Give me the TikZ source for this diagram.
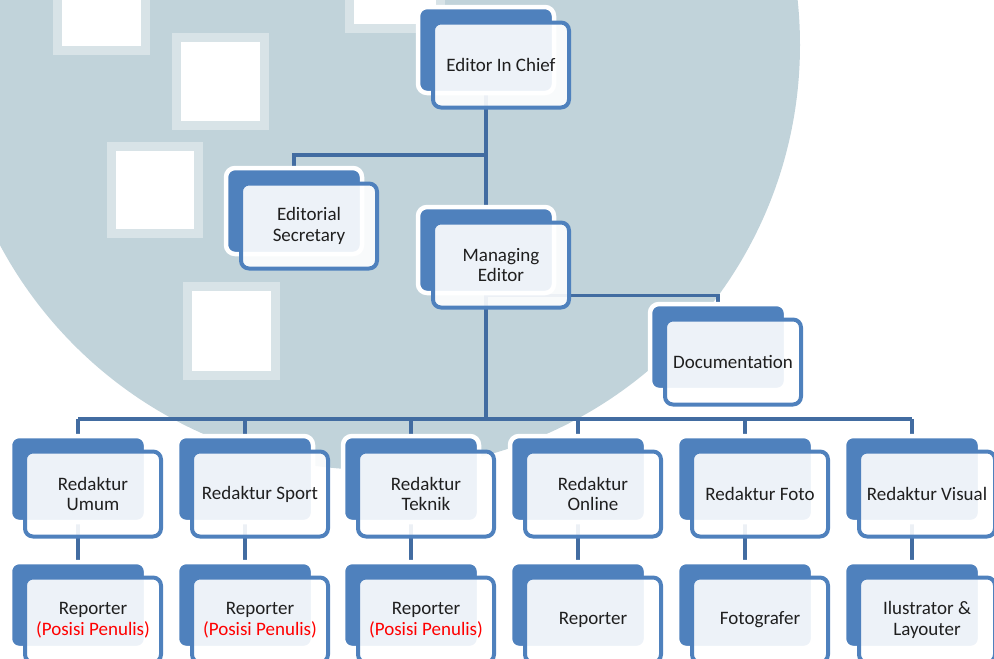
\documentclass[tikz,border=0pt]{standalone}
\usepackage{fontspec}
\setmainfont{Carlito}
\usepackage{tikz}
\definecolor{box_blue}{RGB}{79,129,189}
\definecolor{edge_blue}{RGB}{66,108,161}
\definecolor{mark_gray}{RGB}{193,211,218}
\definecolor{mark_light}{RGB}{216,227,231}
\definecolor{text_red}{RGB}{255,0,0}
\pgfdeclarelayer{bg}
\pgfdeclarelayer{edges}
\pgfsetlayers{bg,edges,main}

\begin{document}
\begin{tikzpicture}[x=1pt,y=-1pt,line join=round]
    \tikzstyle{back}=[draw=white, line width=4.5pt, fill=box_blue, rounded corners=9pt, minimum width=136pt, minimum height=86pt, inner sep=0pt]
    \tikzstyle{front}=[draw=box_blue, line width=4pt, fill=white, fill opacity=0.9, text opacity=1, rounded corners=8pt, minimum width=136pt, minimum height=85pt, inner sep=0pt, align=center, text=black!88, font=\fontsize{19}{20.5}\selectfont]
    \tikzstyle{link}=[draw=edge_blue, line width=3.5pt]

    \useasboundingbox (0,0) rectangle (994,659);

    % watermark behind the chart
    \begin{pgfonlayer}{bg}
      \fill[mark_gray] (375,45) circle[radius=425];
      \foreach \x/\y/\w/\h in {53/-10/97/65, 172/33/97/97, 107/142/96/96, 183/282/97/98, 345/-11/100/44} {
        \fill[mark_light] (\x,\y) rectangle ++(\w,\h);
        \fill[white] (\x+9,\y+9) rectangle ++(\w-18,\h-18);
      }
    \end{pgfonlayer}

    % back cards
    \node[back] (eicb) at (486,50)  {};
    \node[back] (esb)  at (294,211) {};
    \node[back] (meb)  at (486,250) {};
    \node[back] (docb) at (718,347) {};
    \foreach \n/\x in {1/78,2/245,3/411,4/578,5/745,6/912} {
      \node[back] (r\n b) at (\x,479) {};
      \node[back] (p\n b) at (\x,605) {};
    }

    % front cards
    \node[front] (eic) at (501,65)  {Editor In Chief};
    \node[front] (es)  at (309,226) {Editorial\\Secretary};
    \node[front] (me)  at (501,265) {Managing\\Editor};
    \node[front] (doc) at (733,362) {Documentation};

    \node[front] (r1) at (93,494)  {Redaktur\\Umum};
    \node[front] (r2) at (260,494) {Redaktur Sport};
    \node[front] (r3) at (426,494) {Redaktur\\Teknik};
    \node[front] (r4) at (593,494) {Redaktur\\Online};
    \node[front] (r5) at (760,494) {Redaktur Foto};
    \node[front] (r6) at (927,494) {Redaktur Visual};

    \node[front] (p1) at (93,620)  {Reporter\\\textcolor{text_red}{(Posisi Penulis)}};
    \node[front] (p2) at (260,620) {Reporter\\\textcolor{text_red}{(Posisi Penulis)}};
    \node[front] (p3) at (426,620) {Reporter\\\textcolor{text_red}{(Posisi Penulis)}};
    \node[front] (p4) at (593,620) {Reporter};
    \node[front] (p5) at (760,620) {Fotografer};
    \node[front] (p6) at (927,620) {Ilustrator \&\\Layouter};

    % connectors
    \begin{pgfonlayer}{edges}
      \coordinate (j1) at (486,155);
      \coordinate (j2) at (486,419);
      \path[link]
       (eicb) edge (meb)
       (meb)  edge (j2)
       (j1)   edge[to path={-| (\tikztotarget)}] (esb)
       (meb.south) edge[to path={-| (\tikztotarget)}] (docb)
       (r1b.north |- j2) edge (r6b.north |- j2)
       ;
      \foreach \n in {1,...,6}
        \path[link] (r\n b.north |- j2) edge (r\n b) (r\n b) edge (p\n b);
    \end{pgfonlayer}
\end{tikzpicture}
\end{document}
